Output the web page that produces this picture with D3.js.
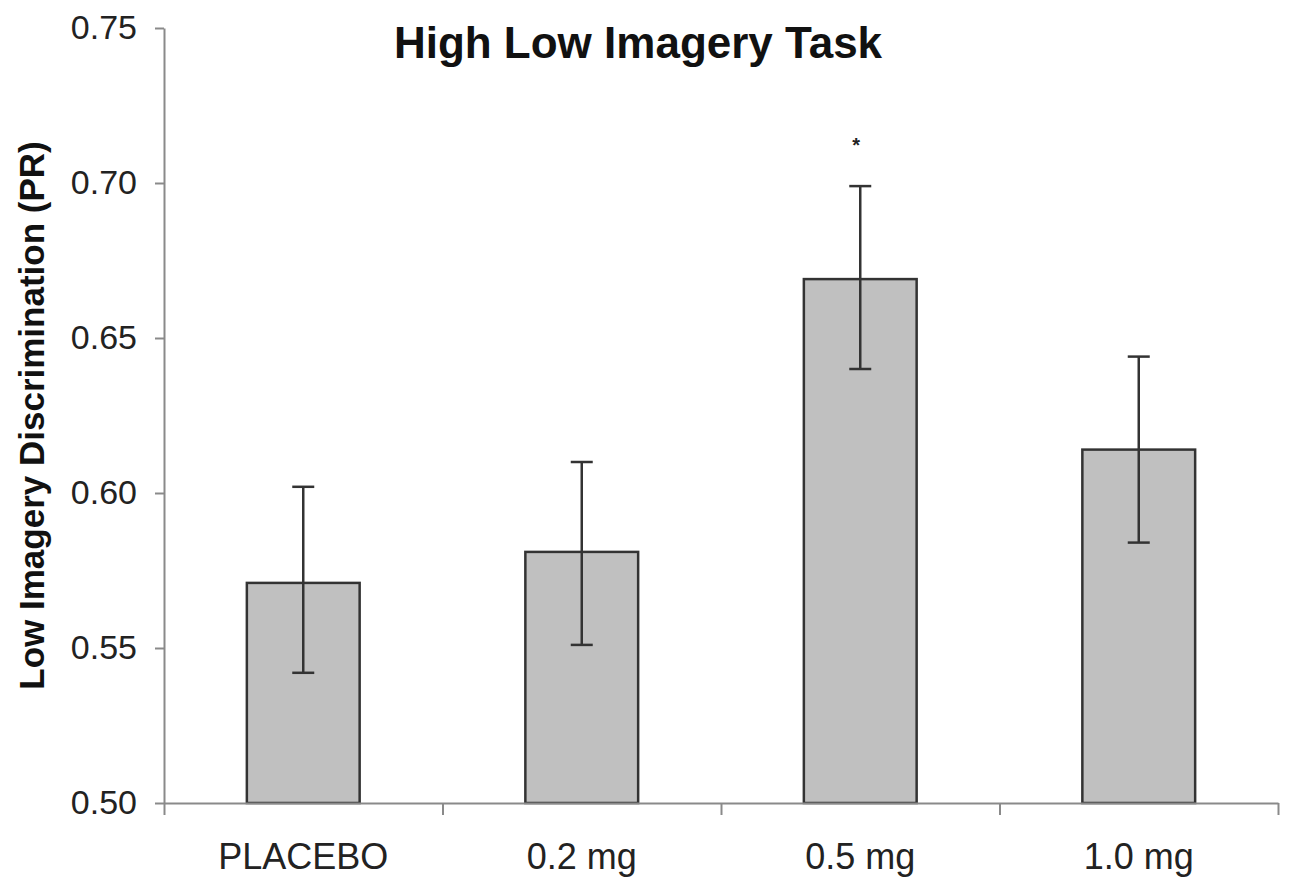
<!DOCTYPE html>
<html>
<head>
<meta charset="utf-8">
<script src="https://cdn.jsdelivr.net/npm/d3@7"></script>
<style>
  body { margin: 0; background: #fff; }
  text { font-family: "Liberation Sans", Arial, sans-serif; }
</style>
</head>
<body>
<svg id="chart" width="1290" height="880"></svg>
<script>
// values
const categories = ["PLACEBO", "0.2 mg", "0.5 mg", "1.0 mg"];
const means = [0.571, 0.581, 0.669, 0.614];
const errLow = [0.542, 0.551, 0.640, 0.584];
const errHigh = [0.602, 0.610, 0.699, 0.644];
const significant = [false, false, true, false];
const yTicks = [0.50, 0.55, 0.60, 0.65, 0.70, 0.75];

const svg = d3.select("#chart");
const plotLeft = 164, plotRight = 1278, plotTop = 28, plotBottom = 803;

const x = d3.scaleBand().domain(categories).range([plotLeft, plotRight])
    .paddingInner(0.595).paddingOuter(0.2975);
const xEdges = d3.scaleLinear().domain([0, categories.length]).range([plotLeft, plotRight]);
const y = d3.scaleLinear().domain([0.5, 0.75]).range([plotBottom, plotTop]);

const axisColor = "#8a8a8a";

// y axis
const yAxis = svg.append("g")
    .attr("transform", `translate(${plotLeft},0)`)
    .call(d3.axisLeft(y).tickValues(yTicks).tickFormat(d3.format(".2f"))
        .tickSize(9).tickSizeOuter(0).tickPadding(18));
yAxis.select(".domain").attr("stroke", axisColor).attr("stroke-width", 2);
yAxis.selectAll(".tick line").attr("stroke", axisColor).attr("stroke-width", 2);
yAxis.selectAll(".tick text").attr("fill", "#222").style("font-size", "34px")
    .style("font-family", "'Liberation Sans', Arial, sans-serif");

// bars
svg.selectAll("rect.bar").data(categories).enter().append("rect")
    .attr("class", "bar")
    .attr("x", d => x(d))
    .attr("width", x.bandwidth())
    .attr("y", (d, i) => y(means[i]))
    .attr("height", (d, i) => y(0.5) - y(means[i]))
    .attr("fill", "#c0c0c0")
    .attr("stroke", "#333")
    .attr("stroke-width", 2.5);

// x axis (boundary ticks)
const xAxis = svg.append("g")
    .attr("transform", `translate(0,${plotBottom})`)
    .call(d3.axisBottom(xEdges).tickValues(d3.range(categories.length + 1))
        .tickFormat("").tickSize(12).tickSizeOuter(0));
xAxis.select(".domain").attr("stroke", axisColor).attr("stroke-width", 2);
xAxis.selectAll(".tick line").attr("stroke", axisColor).attr("stroke-width", 2);

// category labels
svg.selectAll("text.cat").data(categories).enter().append("text")
    .attr("class", "cat")
    .attr("x", d => x(d) + x.bandwidth() / 2)
    .attr("y", 869)
    .attr("text-anchor", "middle")
    .attr("fill", "#222")
    .style("font-size", "36px")
    .text(d => d);

// error bars
const capW = 22;
const err = svg.append("g").attr("stroke", "#333").attr("stroke-width", 2.5);
categories.forEach((c, i) => {
    const cx = x(c) + x.bandwidth() / 2;
    err.append("line").attr("x1", cx).attr("x2", cx).attr("y1", y(errLow[i])).attr("y2", y(errHigh[i]));
    err.append("line").attr("x1", cx - capW / 2).attr("x2", cx + capW / 2).attr("y1", y(errHigh[i])).attr("y2", y(errHigh[i]));
    err.append("line").attr("x1", cx - capW / 2).attr("x2", cx + capW / 2).attr("y1", y(errLow[i])).attr("y2", y(errLow[i]));
    if (significant[i]) {
        svg.append("text")
            .attr("x", cx - 4)
            .attr("y", y(errHigh[i]) - 34)
            .attr("text-anchor", "middle")
            .attr("fill", "#222")
            .style("font-size", "20px")
            .style("font-weight", "bold")
            .text("*");
    }
});

// title
svg.append("text")
    .attr("x", 638)
    .attr("y", 58)
    .attr("text-anchor", "middle")
    .style("font-size", "44px")
    .style("font-weight", "bold")
    .attr("fill", "#111")
    .text("High Low Imagery Task");

// y label
svg.append("text")
    .attr("transform", `translate(44,${(plotTop + plotBottom) / 2}) rotate(-90)`)
    .attr("text-anchor", "middle")
    .style("font-size", "35px")
    .style("font-weight", "bold")
    .attr("fill", "#111")
    .text("Low Imagery Discrimination (PR)");
</script>
</body>
</html>
